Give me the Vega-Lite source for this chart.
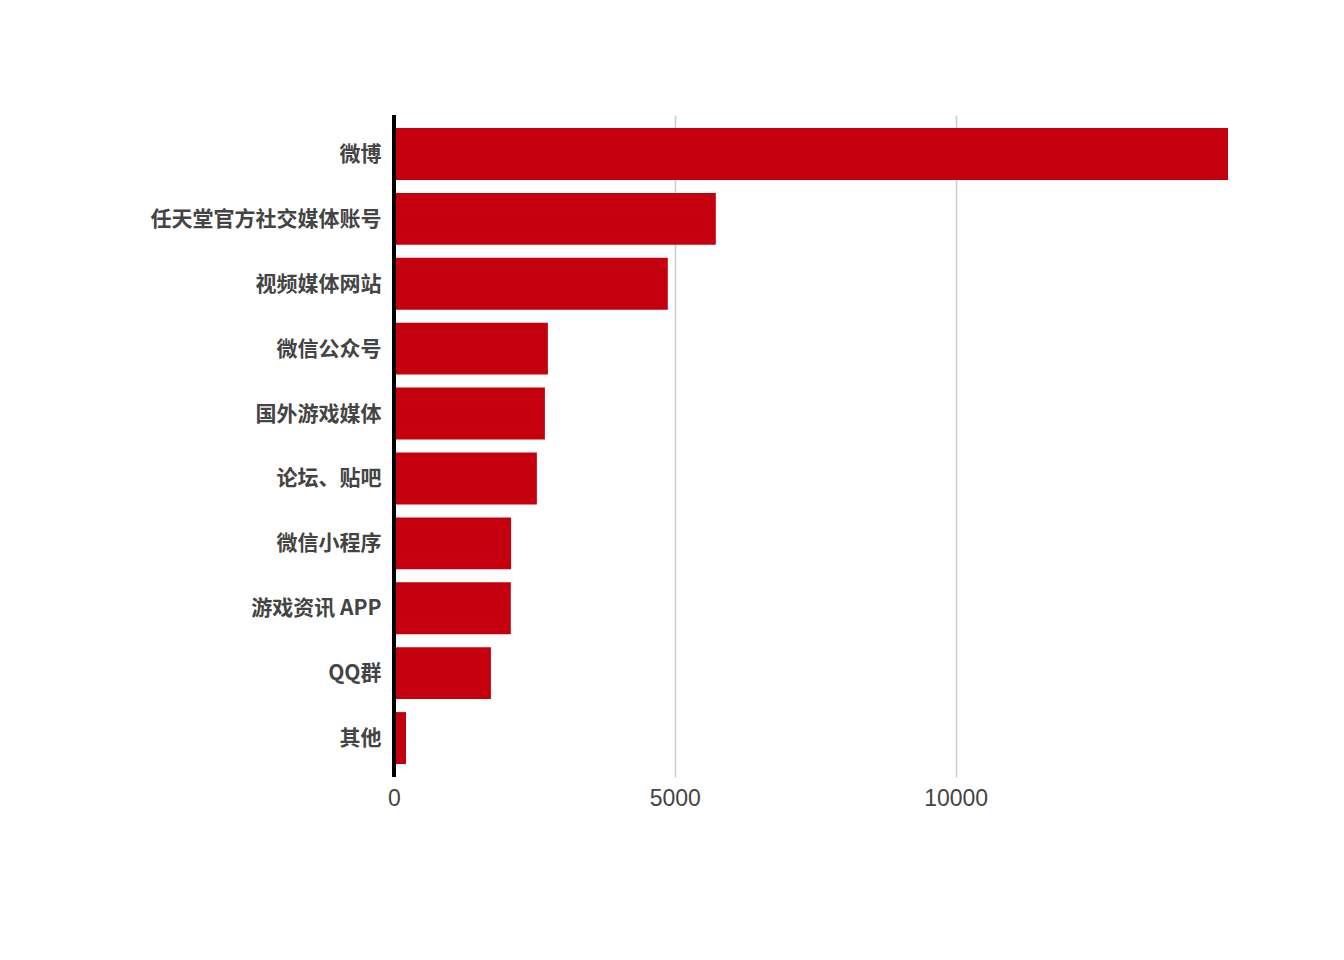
{
  "$schema": "https://vega.github.io/schema/vega-lite/v6.json",
  "autosize": "none",
  "width": 834,
  "height": 662,
  "padding": {"left": 394, "top": 115, "right": 116, "bottom": 183},
  "background": "white",
  "data": {
    "values": [
      {"channel": "微博", "count": 14850},
      {"channel": "任天堂官方社交媒体账号", "count": 5730},
      {"channel": "视频媒体网站", "count": 4875},
      {"channel": "微信公众号", "count": 2740},
      {"channel": "国外游戏媒体", "count": 2687},
      {"channel": "论坛、贴吧", "count": 2544},
      {"channel": "微信小程序", "count": 2085},
      {"channel": "游戏资讯 APP", "count": 2080},
      {"channel": "QQ群", "count": 1726},
      {"channel": "其他", "count": 214}
    ]
  },
  "layer": [
    {
      "mark": {"type": "bar", "color": "#c4000f"},
      "encoding": {
        "y": {
          "field": "channel",
          "type": "nominal",
          "sort": null,
          "title": null,
          "scale": {"paddingInner": 0.2, "paddingOuter": 0.2},
          "axis": {
            "domain": false,
            "ticks": false,
            "labelFont": "Noto Sans CJK SC",
            "labelFontWeight": "bold",
            "labelFontSize": 21,
            "labelColor": "#444444",
            "labelPadding": 13,
            "labelLimit": 400,
            "labelBaseline": "middle",
            "labelOffset": 1
          }
        },
        "x": {
          "field": "count",
          "type": "quantitative",
          "title": null,
          "scale": {"domain": [0, 14850], "nice": false},
          "axis": {
            "values": [0, 5000, 10000],
            "format": "d",
            "domain": false,
            "ticks": false,
            "grid": true,
            "gridColor": "#cccccc",
            "gridWidth": 1.5,
            "labelFlush": false,
            "labelFont": "Liberation Sans",
            "labelFontSize": 23,
            "labelColor": "#444444",
            "labelPadding": 10
          }
        }
      }
    },
    {
      "mark": {"type": "rule", "color": "black", "strokeWidth": 3},
      "encoding": {"x": {"datum": 0}}
    }
  ],
  "config": {"view": {"stroke": null}}
}
